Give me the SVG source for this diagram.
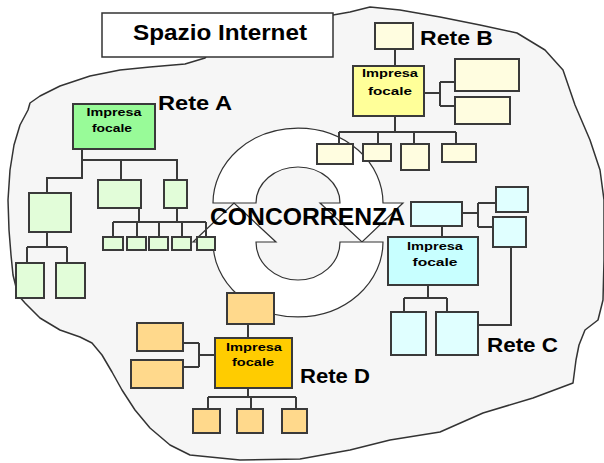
<svg xmlns="http://www.w3.org/2000/svg" width="604" height="463" viewBox="0 0 604 463">
<style>
  .blob{fill:#f6f6f6;stroke:#333;stroke-width:1.5;stroke-linejoin:round}
  .ring{fill:#fff;stroke:#333;stroke-width:1.2;stroke-linejoin:miter}
  .box{stroke:#3a3a3a;stroke-width:2}
  .ln{fill:none;stroke:#3a3a3a;stroke-width:2}
  .lbl{font-family:"Liberation Sans",Arial,sans-serif;font-weight:bold;fill:#000}
  .big{font-size:21px}
  .sm{font-size:10px;text-anchor:middle}
  .gA{fill:#98fb98}.lA{fill:#e2fdd9}
  .gB{fill:#ffff99}.lB{fill:#fffde0}
  .gC{fill:#c8ffff}.lC{fill:#e0ffff}
  .gD{fill:#ffcc00}.lD{fill:#ffd98c}
</style>
<path class="blob" d="M205,58 L185,64 L150,67 L120,70 L90,76 L60,86 L40,96 L30,103 L28,110 L20,125 L14,145 L10,170 L8,200 L9,230 L11,255 L13,275 L18,295 L25,303 L40,318 L60,330 L80,337 L92,343 L102,355 L112,372 L122,390 L135,410 L150,428 L170,445 L190,455 L240,460 L300,459 L350,450 L390,440 L440,432 L483,413 L533,398 L573,383 L576,360 L579,345 L585,330 L598,320 L603,300 L604,260 L604,200 L600,170 L590,140 L575,105 L563,70 L545,50 L517,33 L480,25 L440,17 L400,10 L370,7 L350,12 L333,15 L215,45 Z"/>
<g id="title">
  <rect x="102" y="13" width="231" height="44" fill="#fff" stroke="#333" stroke-width="1.5"/>
  <text class="lbl" x="133" y="40" font-size="22" textLength="174" lengthAdjust="spacingAndGlyphs">Spazio Internet</text>
</g>
<g id="concorrenza">
  <path class="ring" d="M213,203 A85,75 0 0 1 383,203 L403,203 L362,242 L320,203 L340,203 A42,36 0 0 0 256,203 Z"/>
  <path class="ring" d="M383,242 A85,75 0 0 1 213,242 L193,242 L234,203 L276,242 L256,242 A42,38 0 0 0 340,242 Z"/>
</g>
<g id="connectors">
  <!-- Rete A -->
  <path class="ln" d="M82,149 V178 H47 V193 M82,160 H177 V180 M121,160 V180 M47,232 V247 M27,247 H67 M27,247 V263 M67,247 V263 M139,208 V222 M177,208 V222 M113,222 H206 M113,222 V237 M137,222 V237 M159,222 V237 M182,222 V237 M206,222 V237"/>
  <!-- Rete B -->
  <path class="ln" d="M395,49 V66 M424,93 H440 M440,82 V106 M440,82 H455 M440,106 H455 M395,116 V132 M339,132 H456 M339,132 V144 M378,132 V144 M414,132 V144 M456,132 V144"/>
  <!-- Rete C -->
  <path class="ln" d="M442,226 V237 M462,213 H478 M478,203 V227 M478,203 H496 M478,227 H493 M511,247 V325 H478 M428,285 V298 M404,298 H447 M404,298 V312 M447,298 V312"/>
  <!-- Rete D -->
  <path class="ln" d="M248,324 V338 M215,355 H199 M199,343 V367 M199,343 H183 M199,367 H183 M248,388 V397 M208,397 H296 M208,397 V409 M251,397 V409 M296,397 V409"/>
</g>
<g id="reteA">
  <rect class="box gA" x="73" y="104" width="82" height="45"/>
  <text class="lbl sm" x="114" y="116" textLength="55" lengthAdjust="spacingAndGlyphs">Impresa</text>
  <text class="lbl sm" x="112" y="132" textLength="40" lengthAdjust="spacingAndGlyphs">focale</text>
  <text class="lbl big" x="158" y="110" textLength="74" lengthAdjust="spacingAndGlyphs">Rete A</text>
</g>
<g id="reteA-nodes">
  <rect class="box lA" x="29" y="193" width="42" height="39"/>
  <rect class="box lA" x="98" y="180" width="43" height="28"/>
  <rect class="box lA" x="164" y="180" width="23" height="28"/>
  <rect class="box lA" x="16" y="263" width="28" height="35"/>
  <rect class="box lA" x="56" y="263" width="29" height="35"/>
  <rect class="box lA" x="103" y="237" width="20" height="13"/>
  <rect class="box lA" x="127" y="237" width="19" height="13"/>
  <rect class="box lA" x="149" y="237" width="19" height="13"/>
  <rect class="box lA" x="172" y="237" width="19" height="13"/>
  <rect class="box lA" x="197" y="237" width="18" height="13"/>
</g>
<g id="reteB">
  <rect class="box gB" x="353" y="66" width="71" height="50"/>
  <text class="lbl sm" x="390" y="77" textLength="56" lengthAdjust="spacingAndGlyphs">Impresa</text>
  <text class="lbl sm" x="390" y="95" textLength="44" lengthAdjust="spacingAndGlyphs">focale</text>
  <text class="lbl big" x="420" y="45" textLength="73" lengthAdjust="spacingAndGlyphs">Rete B</text>
</g>
<g id="reteB-nodes">
  <rect class="box lB" x="375" y="23" width="38" height="26"/>
  <rect class="box lB" x="455" y="59" width="64" height="32"/>
  <rect class="box lB" x="455" y="97" width="55" height="27"/>
  <rect class="box lB" x="317" y="144" width="36" height="20"/>
  <rect class="box lB" x="363" y="144" width="28" height="17"/>
  <rect class="box lB" x="401" y="144" width="28" height="26"/>
  <rect class="box lB" x="442" y="144" width="34" height="18"/>
</g>
<g id="reteC">
  <rect class="box gC" x="388" y="237" width="90" height="48"/>
  <text class="lbl sm" x="435" y="250" textLength="56" lengthAdjust="spacingAndGlyphs">Impresa</text>
  <text class="lbl sm" x="435" y="266" textLength="45" lengthAdjust="spacingAndGlyphs">focale</text>
  <text class="lbl big" x="487" y="352" textLength="71" lengthAdjust="spacingAndGlyphs">Rete C</text>
</g>
<g id="reteC-nodes">
  <rect class="box lC" x="411" y="202" width="51" height="24"/>
  <rect class="box lC" x="496" y="187" width="32" height="25"/>
  <rect class="box lC" x="493" y="217" width="33" height="30"/>
  <rect class="box lC" x="391" y="312" width="35" height="43"/>
  <rect class="box lC" x="436" y="312" width="42" height="43"/>
</g>
<g id="reteD">
  <rect class="box gD" x="215" y="338" width="77" height="50"/>
  <text class="lbl sm" x="254" y="351" textLength="56" lengthAdjust="spacingAndGlyphs">Impresa</text>
  <text class="lbl sm" x="253" y="366" textLength="42" lengthAdjust="spacingAndGlyphs">focale</text>
  <text class="lbl big" x="300" y="383" textLength="70" lengthAdjust="spacingAndGlyphs">Rete D</text>
</g>
<g id="reteD-nodes">
  <rect class="box lD" x="227" y="293" width="47" height="31"/>
  <rect class="box lD" x="137" y="323" width="46" height="28"/>
  <rect class="box lD" x="131" y="360" width="52" height="28"/>
  <rect class="box lD" x="193" y="409" width="27" height="24"/>
  <rect class="box lD" x="237" y="409" width="26" height="24"/>
  <rect class="box lD" x="282" y="409" width="25" height="24"/>
</g>
<g id="concorrenza-label">
  <text class="lbl" x="210" y="225" font-size="24" textLength="195" lengthAdjust="spacingAndGlyphs">CONCORRENZA</text>
</g>
</svg>
